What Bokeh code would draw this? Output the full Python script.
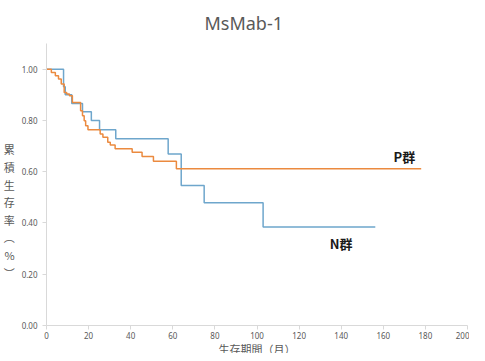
from bokeh.plotting import figure
from bokeh.models import Range1d, FixedTicker, NumeralTickFormatter, Label, Title
from bokeh.embed import file_html
from bokeh.resources import INLINE

# Kaplan-Meier style step data (value holds from time[i] onward)
n_time = [0, 8.1, 8.9, 12.0, 17.1, 21.3, 25.2, 32.9, 57.8, 64.0, 74.9, 102.9, 156.2]
n_surv = [1.0, 0.931, 0.900, 0.866, 0.834, 0.800, 0.764, 0.728, 0.669, 0.546, 0.479, 0.384, 0.384]

p_time = [0, 2.3, 4.2, 5.7, 7.0, 8.4, 9.6, 10.9, 12.3, 16.2, 17.1, 17.9, 18.6, 19.7,
          25.5, 26.8, 29.1, 30.3, 32.6, 40.7, 45.4, 50.8, 61.7, 178]
p_surv = [1.0, 0.987, 0.974, 0.962, 0.942, 0.909, 0.903, 0.896, 0.870, 0.838, 0.818, 0.799,
          0.779, 0.764, 0.747, 0.734, 0.715, 0.704, 0.689, 0.676, 0.659, 0.641, 0.611, 0.611]

x_ticks = [0, 20, 40, 60, 80, 100, 120, 140, 160, 180, 200]
y_ticks = [0.0, 0.2, 0.4, 0.6, 0.8, 1.0]

title_text = "MsMab-1"
x_label = "生存期間（月）"
y_label_chars = ["累", "積", "生", "存", "率", "︵", "%", "︶"]
p_label = "P群"
n_label = "N群"

FONT = "Noto Sans CJK JP"
W, H = 469, 353
p = figure(width=W, height=H, output_backend="svg", toolbar_location=None,
           x_range=Range1d(0, 200), y_range=Range1d(0, 1.1),
           min_border_left=10, min_border_right=2, min_border_top=4, min_border_bottom=0)
p.title.text = title_text
p.title.align = "left"
p.title.offset = 158
p.title.text_font = "Noto Sans"
p.title.text_font_size = "18px"
p.title.text_font_style = "normal"
p.title.text_color = "#595959"
p.title.standoff = 17

p.outline_line_color = None
p.xgrid.visible = False
p.ygrid.visible = False
p.background_fill_color = "white"
p.border_fill_color = "white"

for ax in (p.xaxis[0], p.yaxis[0]):
    ax.axis_line_color = "#d9d9d9"
    ax.major_tick_line_color = "#d9d9d9"
    ax.major_tick_out = 4
    ax.major_tick_in = 0
    ax.minor_tick_line_color = None
    ax.major_label_text_color = "#595959"
    ax.major_label_text_font = "Noto Sans"
    ax.major_label_text_font_size = "8px"
    ax.axis_label_text_color = "#595959"
    ax.axis_label_text_font = FONT
    ax.axis_label_text_font_size = "11px"
    ax.axis_label_text_font_style = "normal"

p.xaxis[0].ticker = FixedTicker(ticks=x_ticks)
p.yaxis[0].ticker = FixedTicker(ticks=y_ticks)
p.yaxis[0].formatter = NumeralTickFormatter(format="0.00")
p.xaxis[0].major_label_standoff = 2
p.yaxis[0].major_label_standoff = 5

p.add_layout(Title(text=x_label, align="center", text_font=FONT, text_font_size="11px",
                   text_font_style="normal", text_color="#595959", standoff=-6,
                   text_line_height=0.8), "below")
p.yaxis[0].axis_label = "\n".join(["　", "　", "　"] + y_label_chars)
p.yaxis[0].axis_label_orientation = "horizontal"
p.yaxis[0].axis_label_standoff = 4
p.yaxis[0].axis_label_text_line_height = 1.1

p.step(n_time, n_surv, mode="after", line_color="#6ea6cc", line_width=1.5)
p.step(p_time, p_surv, mode="after", line_color="#eb8a3f", line_width=1.5)

p.add_layout(Label(x=170, y=0.661, text=p_label, text_font=FONT, text_font_size="13px",
                   text_font_style="bold", text_color="#1a1a1a",
                   text_align="center", text_baseline="middle"))
p.add_layout(Label(x=140, y=0.319, text=n_label, text_font=FONT, text_font_size="13px",
                   text_font_style="bold", text_color="#1a1a1a",
                   text_align="center", text_baseline="middle"))

open("out.html", "w").write(file_html(p, INLINE))
